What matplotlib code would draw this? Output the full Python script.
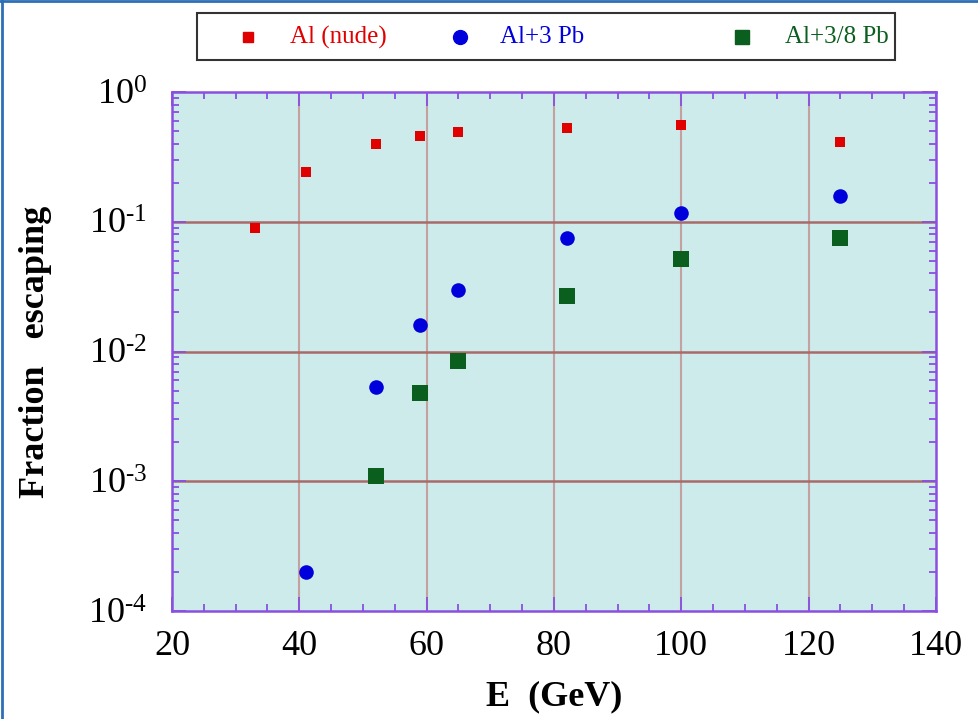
import numpy as np
import matplotlib.pyplot as plt
from matplotlib.lines import Line2D
from matplotlib.patches import Rectangle
from matplotlib.ticker import FixedLocator, LogLocator, NullFormatter, FuncFormatter

# data (E in GeV, fraction escaping)
e_nude = [33, 41, 52, 59, 65, 82, 100, 125]
f_nude = [0.089, 0.24, 0.40, 0.46, 0.49, 0.53, 0.56, 0.41]

e_3pb = [41, 52, 59, 65, 82, 100, 125]
f_3pb = [2.0e-4, 0.0053, 0.016, 0.030, 0.075, 0.117, 0.158]

e_38pb = [52, 59, 65, 82, 100, 125]
f_38pb = [0.0011, 0.0048, 0.0084, 0.027, 0.052, 0.075]

labels = ["Al (nude)", "Al+3 Pb", "Al+3/8 Pb"]
colors = ["#e00000", "#0000dd", "#0a5e1e"]

plt.rcParams['font.family'] = ["Liberation Serif", "DejaVu Serif"]
plt.rcParams['mathtext.fontset'] = 'custom'
plt.rcParams['mathtext.rm'] = 'Liberation Serif'
plt.rcParams['axes.unicode_minus'] = False
purple = "#8a4fe0"
W, H = 979, 719

fig = plt.figure(figsize=(9.79, 7.19), dpi=100)
ax = fig.add_axes([172 / W, 1 - 611 / H, (936 - 172) / W, (611 - 92) / H])
ax.set_facecolor("#cdebea")

ax.scatter(e_nude, f_nude, marker="s", s=60, color=colors[0], zorder=3, linewidths=0)
ax.scatter(e_3pb, f_3pb, marker="o", s=110, color=colors[1], zorder=3, linewidths=0)
ax.scatter(e_38pb, f_38pb, marker="s", s=120, color=colors[2], zorder=3, linewidths=0)

ax.set_yscale("log")
ax.set_xlim(20, 140)
ax.set_ylim(1e-4, 1)


def exp_label(v, pos):
    n = int(round(np.log10(v)))
    if n < 0:
        return r"$\mathregular{10^{\text{-}%d}}$" % (-n)
    return r"$\mathregular{10^{%d}}$" % n


ax.xaxis.set_major_locator(FixedLocator([20, 40, 60, 80, 100, 120, 140]))
ax.xaxis.set_minor_locator(FixedLocator(np.arange(25, 140, 5)))
ax.yaxis.set_major_locator(LogLocator(base=10, numticks=10))
ax.yaxis.set_minor_locator(LogLocator(base=10, subs=np.arange(2, 10), numticks=20))
ax.yaxis.set_minor_formatter(NullFormatter())
ax.yaxis.set_major_formatter(FuncFormatter(exp_label))

# grid lines: vertical lighter, horizontal darker
for x in [40, 60, 80, 100, 120]:
    ax.axvline(x, color="#c4a0a0", lw=1.5, zorder=1)
for y in [1e-3, 1e-2, 1e-1]:
    ax.axhline(y, color="#a86a6a", lw=1.8, zorder=1)

for s in ax.spines.values():
    s.set_color(purple)
    s.set_linewidth(1.8)

ax.tick_params(which="both", direction="in", top=True, right=True, color=purple, width=1.3)
ax.tick_params(which="major", length=10)
ax.tick_params(which="minor", length=5)
ax.tick_params(axis="x", labelsize=26, pad=14)
ax.tick_params(axis="y", labelsize=26, pad=18)

ax.set_xlabel("E  (GeV)", fontsize=26, fontweight="bold", labelpad=12)
ax.set_ylabel("Fraction   escaping", fontsize=26, fontweight="bold", labelpad=26)

# legend box drawn by hand (entries are unevenly spaced in the original)
fig.add_artist(Rectangle((197 / W, 1 - 60 / H), (895 - 197) / W, 47 / H,
                         transform=fig.transFigure, fill=False, ec="#333333", lw=1.5))
leg_markers = [("s", 7), ("o", 10), ("s", 10)]
leg_mx = [248, 460, 742]
leg_tx = [290, 500, 785]
for (m, ms), mx, tx, lab, c in zip(leg_markers, leg_mx, leg_tx, labels, colors):
    fig.add_artist(Line2D([mx / W], [1 - 37 / H], marker=m, markersize=ms, ls="",
                          color=c, transform=fig.transFigure))
    fig.text(tx / W, 1 - 37 / H, lab, color=c, fontsize=18, va="center", ha="left")

# blue page border on left and top
fig.add_artist(Line2D([0.002, 0.002], [0, 1], transform=fig.transFigure, color="#2d6fb5", lw=2))
fig.add_artist(Line2D([0, 1], [0.998, 0.998], transform=fig.transFigure, color="#2d6fb5", lw=2))

fig.savefig("out.png", dpi=100)
